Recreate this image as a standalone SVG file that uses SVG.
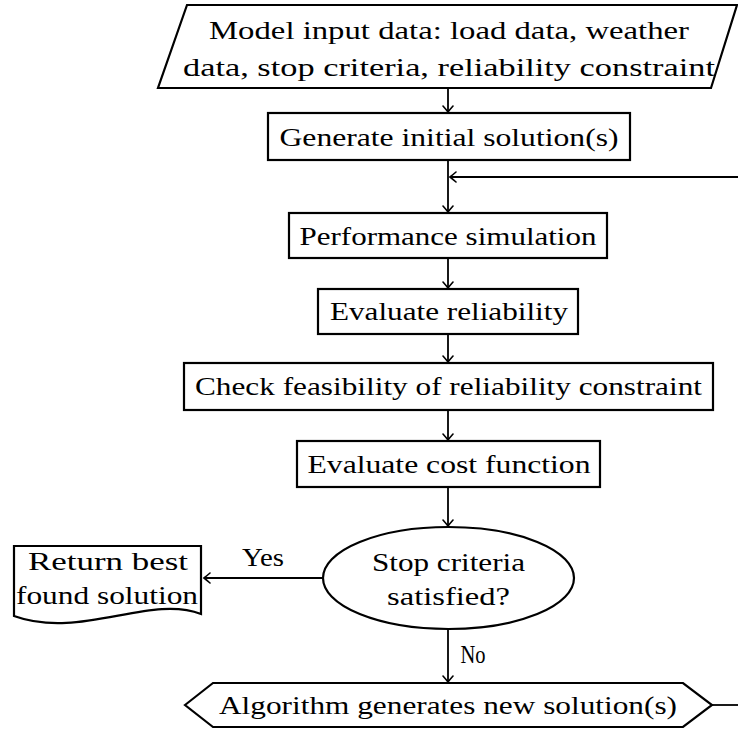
<svg xmlns="http://www.w3.org/2000/svg" width="738" height="738" viewBox="0 0 738 738">
  <defs>
    <marker id="arrow" viewBox="-8 -6 10 12" markerWidth="10" markerHeight="12" refX="0" refY="0" orient="auto" markerUnits="userSpaceOnUse">
      <path d="M -6,-5 Q -2,-1.5 0,0 Q -2,1.5 -6,5" fill="none" stroke="#000" stroke-width="1.6" stroke-linecap="round"/>
    </marker>
  </defs>
  <style>
    .shape { fill: #fff; stroke: #000; stroke-width: 2.2; }
    .label { font-family: "Liberation Serif", "DejaVu Serif", serif; font-size: 26px; fill: #000; text-anchor: middle; }
    .edge { fill: none; stroke: #000; stroke-width: 1.8; }
    .arrow { marker-end: url(#arrow); }
  </style>

  <rect width="738" height="738" fill="#fff"/>

  <!-- connectors -->
  <g id="connectors">
    <line class="edge arrow" x1="448" y1="88" x2="448" y2="112"/>
    <line class="edge arrow" x1="448" y1="160" x2="448" y2="212"/>
    <line class="edge arrow" x1="738" y1="177" x2="450" y2="177"/>
    <line class="edge arrow" x1="448" y1="258" x2="448" y2="288"/>
    <line class="edge arrow" x1="448" y1="334" x2="448" y2="362"/>
    <line class="edge arrow" x1="448" y1="410" x2="448" y2="440"/>
    <line class="edge arrow" x1="448" y1="487" x2="448" y2="526"/>
    <line class="edge arrow" x1="323" y1="578" x2="204" y2="578"/>
    <text class="label" x="263" y="566" textLength="42" lengthAdjust="spacingAndGlyphs">Yes</text>
    <line class="edge arrow" x1="448" y1="629" x2="448" y2="682"/>
    <text class="label" x="473" y="663" textLength="25" lengthAdjust="spacingAndGlyphs">No</text>
    <line class="edge" x1="712" y1="705" x2="738" y2="705"/>
  </g>

  <!-- input data -->
  <g id="input">
    <polygon class="shape" points="187,5 737,5 711,88 158,88"/>
    <text class="label" x="449" y="39" textLength="480" lengthAdjust="spacingAndGlyphs">Model input data: load data, weather</text>
    <text class="label" x="449" y="76" textLength="532" lengthAdjust="spacingAndGlyphs">data, stop criteria, reliability constraint</text>
  </g>

  <g id="generate">
    <rect class="shape" x="268" y="113" width="362" height="47"/>
    <text class="label" x="449" y="146" textLength="339" lengthAdjust="spacingAndGlyphs">Generate initial solution(s)</text>
  </g>

  <g id="simulation">
    <rect class="shape" x="289" y="213" width="318" height="45"/>
    <text class="label" x="448" y="245" textLength="297" lengthAdjust="spacingAndGlyphs">Performance simulation</text>
  </g>

  <g id="reliability">
    <rect class="shape" x="318" y="289" width="260" height="45"/>
    <text class="label" x="449" y="320" textLength="238" lengthAdjust="spacingAndGlyphs">Evaluate reliability</text>
  </g>

  <g id="feasibility">
    <rect class="shape" x="184" y="363" width="529" height="47"/>
    <text class="label" x="448.5" y="395" textLength="507" lengthAdjust="spacingAndGlyphs">Check feasibility of reliability constraint</text>
  </g>

  <g id="cost">
    <rect class="shape" x="297" y="441" width="303" height="46"/>
    <text class="label" x="449" y="473" textLength="283" lengthAdjust="spacingAndGlyphs">Evaluate cost function</text>
  </g>

  <g id="stop">
    <ellipse class="shape" cx="448.5" cy="578" rx="125.5" ry="51"/>
    <text class="label" x="448.5" y="571" textLength="153" lengthAdjust="spacingAndGlyphs">Stop criteria</text>
    <text class="label" x="448.5" y="605" textLength="123" lengthAdjust="spacingAndGlyphs">satisfied?</text>
  </g>

  <g id="result">
    <path class="shape" d="M14,546 H201 V614 C 150,594 80,640 14,616 Z"/>
    <text class="label" x="108" y="570" textLength="160" lengthAdjust="spacingAndGlyphs">Return best</text>
    <text class="label" x="107" y="604" textLength="182" lengthAdjust="spacingAndGlyphs">found solution</text>
  </g>

  <g id="new-solutions">
    <polygon class="shape" points="185,705 213,683 683,683 712,705 683,727 213,727"/>
    <text class="label" x="448" y="714" textLength="458" lengthAdjust="spacingAndGlyphs">Algorithm generates new solution(s)</text>
  </g>
</svg>
